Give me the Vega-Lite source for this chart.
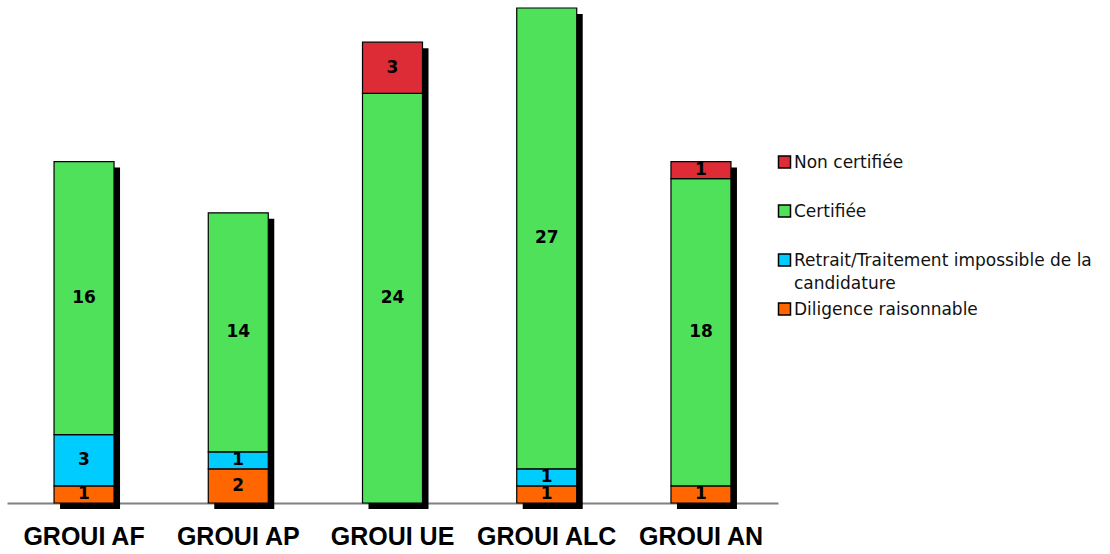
{
  "$schema": "https://vega.github.io/schema/vega-lite/v6.json",
  "width": 771,
  "height": 495,
  "autosize": {"type": "none"},
  "padding": {"left": 7, "top": 8, "right": 332, "bottom": 51},
  "background": "white",
  "config": {"view": {"stroke": null}},
  "data": {
    "values": [
      {"group": "GROUI AF", "status": "Diligence raisonnable", "ord": 1, "value": 1},
      {"group": "GROUI AF", "status": "Retrait/Traitement impossible de la candidature", "ord": 2, "value": 3},
      {"group": "GROUI AF", "status": "Certifiée", "ord": 3, "value": 16},
      {"group": "GROUI AP", "status": "Diligence raisonnable", "ord": 1, "value": 2},
      {"group": "GROUI AP", "status": "Retrait/Traitement impossible de la candidature", "ord": 2, "value": 1},
      {"group": "GROUI AP", "status": "Certifiée", "ord": 3, "value": 14},
      {"group": "GROUI UE", "status": "Certifiée", "ord": 3, "value": 24},
      {"group": "GROUI UE", "status": "Non certifiée", "ord": 4, "value": 3},
      {"group": "GROUI ALC", "status": "Diligence raisonnable", "ord": 1, "value": 1},
      {"group": "GROUI ALC", "status": "Retrait/Traitement impossible de la candidature", "ord": 2, "value": 1},
      {"group": "GROUI ALC", "status": "Certifiée", "ord": 3, "value": 27},
      {"group": "GROUI AN", "status": "Diligence raisonnable", "ord": 1, "value": 1},
      {"group": "GROUI AN", "status": "Certifiée", "ord": 3, "value": 18},
      {"group": "GROUI AN", "status": "Non certifiée", "ord": 4, "value": 1}
    ]
  },
  "encoding": {
    "x": {
      "field": "group",
      "type": "nominal",
      "sort": ["GROUI AF", "GROUI AP", "GROUI UE", "GROUI ALC", "GROUI AN"],
      "scale": {"paddingInner": 0.611, "paddingOuter": 0.305},
      "axis": {
        "title": null,
        "labelAngle": 0,
        "ticks": false,
        "grid": false,
        "domainColor": "#808080",
        "domainWidth": 2,
        "labelFont": "Liberation Sans",
        "labelFontWeight": "bold",
        "labelFontSize": 25,
        "labelColor": "black",
        "labelPadding": 21,
        "labelBaseline": "top"
      }
    }
  },
  "layer": [
    {
      "transform": [
        {"aggregate": [{"op": "sum", "field": "value", "as": "total"}], "groupby": ["group"]}
      ],
      "mark": {"type": "bar", "color": "black", "xOffset": 6, "yOffset": 6},
      "encoding": {
        "y": {"field": "total", "type": "quantitative", "scale": {"domain": [0, 29], "nice": false}, "axis": null}
      }
    },
    {
      "mark": {"type": "bar", "stroke": "black", "strokeWidth": 1.2},
      "encoding": {
        "y": {"field": "value", "type": "quantitative", "stack": "zero", "axis": null},
        "order": {"field": "ord", "type": "quantitative"},
        "color": {
          "field": "status",
          "type": "nominal",
          "scale": {
            "domain": ["Non certifiée", "Certifiée", "Retrait/Traitement impossible de la candidature", "Diligence raisonnable"],
            "range": ["#DD2C36", "#4FE15A", "#00CCFF", "#FF6600"]
          },
          "legend": {
            "title": null,
            "orient": "none",
            "legendX": 769,
            "legendY": 147,
            "padding": 0,
            "symbolType": "square",
            "symbolSize": 144,
            "symbolStrokeColor": "black",
            "symbolStrokeWidth": 1.5,
            "symbolOpacity": 1,
            "clipHeight": 14,
            "rowPadding": 9,
            "labelOffset": 1,
            "labelFont": "DejaVu Sans",
            "labelFontSize": 17,
            "labelColor": "#111111",
            "labelLimit": 400,
            "labelBaseline": "alphabetic",
            "labelExpr": "datum.label == 'Retrait/Traitement impossible de la candidature' ? ['Retrait/Traitement impossible de la', 'candidature'] : [datum.label, '']",
            "encode": {
              "labels": {"update": {"dy": {"value": 6}, "lineHeight": {"value": 23}}}
            }
          }
        }
      }
    },
    {
      "transform": [
        {"stack": "value", "groupby": ["group"], "sort": [{"field": "ord", "order": "ascending"}], "as": ["v0", "v1"]},
        {"calculate": "(datum.v0 + datum.v1) / 2", "as": "mid"}
      ],
      "mark": {"type": "text", "font": "DejaVu Sans", "fontWeight": "bold", "fontSize": 17, "color": "black", "baseline": "middle"},
      "encoding": {
        "y": {"field": "mid", "type": "quantitative"},
        "text": {"field": "value", "type": "quantitative"}
      }
    }
  ]
}
